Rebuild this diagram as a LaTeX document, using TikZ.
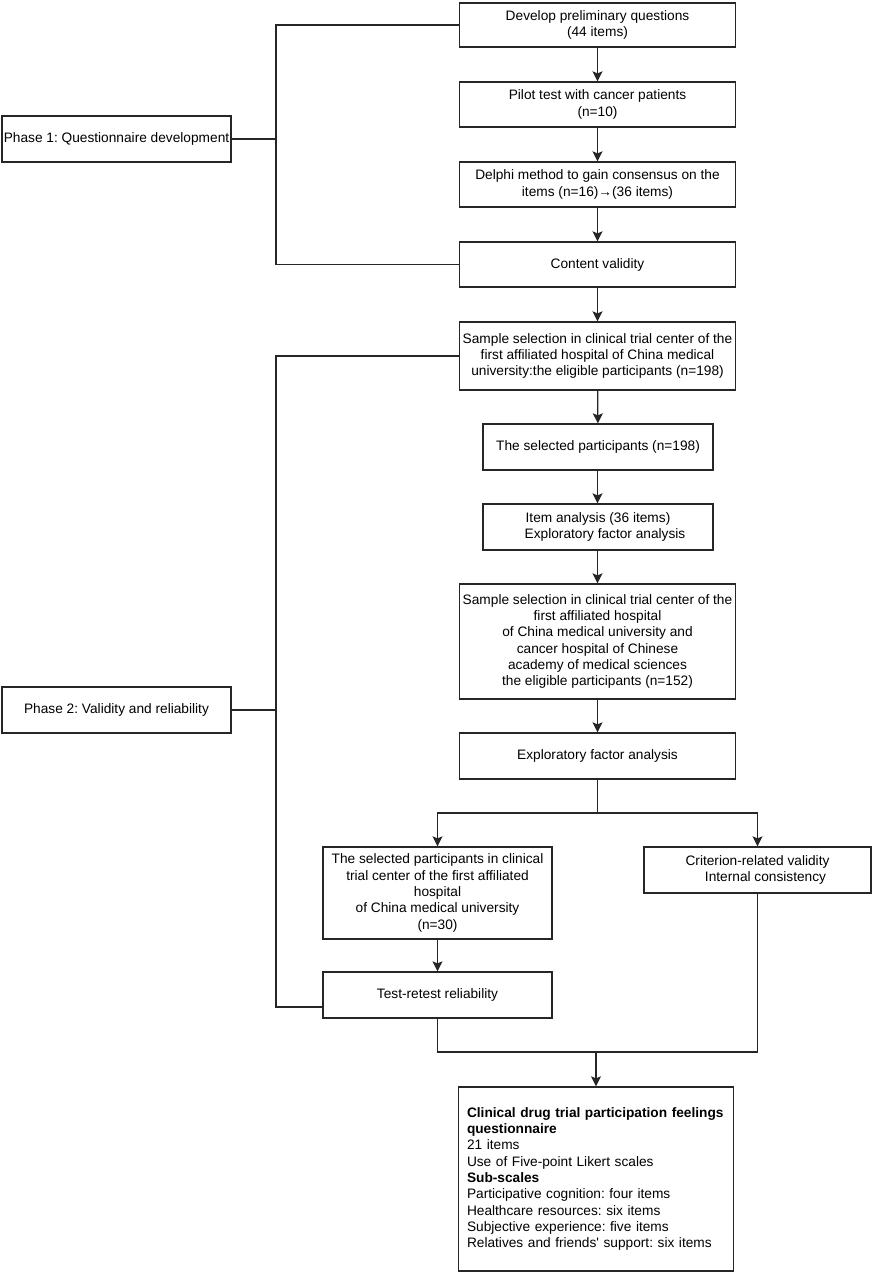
\documentclass[tikz,border=0pt]{standalone}
\usepackage{fontspec}
\setmainfont{Liberation Sans}
\usetikzlibrary{arrows.meta,calc}
\begin{document}
\frenchspacing
\begin{tikzpicture}[x=1pt,y=-1pt,
  every node/.style={inner sep=0pt},
  box/.style={draw=black!85,line width=1.3pt,align=center,
    font=\fontsize{13.7}{16.3}\selectfont,minimum width=276pt},
  conn/.style={draw=black!85,line width=1.3pt},
  arr/.style={conn,-{Stealth[length=10pt,width=10pt,inset=2pt]}}]
\useasboundingbox (0,0) rectangle (872,1273);
% main column
\node[box,minimum height=44pt] (b1) at (597.5,25) {Develop preliminary questions\\(44 items)};
\node[box,minimum height=45pt] (b2) at (597.5,104.5) {Pilot test with cancer patients\\(n=10)};
\node[box,minimum height=45pt] (b3) at (597.5,184.5) {Delphi method to gain consensus on the\\items (n=16)→(36 items)};
\node[box,minimum height=45pt] (b4) at (597.5,264.5) {Content validity};
\node[box,minimum height=68pt] (s1) at (597.5,356) {Sample selection in clinical trial center of the\\first affiliated hospital of China medical\\university:the eligible participants (n=198)};
\node[box,minimum width=230pt,minimum height=46pt] (sel) at (598,447) {The selected participants (n=198)};
\node[box,minimum width=230pt,minimum height=46pt] (item) at (598,527) {Item analysis (36 items)\\\hspace*{14pt}Exploratory factor analysis};
\node[box,minimum height=115pt] (s2) at (597.5,641.5) {Sample selection in clinical trial center of the\\first affiliated hospital\\of China medical university and\\cancer hospital of Chinese\\academy of medical sciences\\the eligible participants (n=152)};
\node[box,minimum height=46pt] (efa) at (597.5,756) {Exploratory factor analysis};
\node[box,minimum width=229pt,minimum height=92pt] (lb) at (437.5,893) {The selected participants in clinical\\trial center of the first affiliated\\hospital\\of China medical university\\(n=30)};
\node[box,minimum width=227pt,minimum height=46pt] (rb) at (757.5,870) {Criterion-related validity\\\hspace*{16pt}Internal consistency};
\node[box,minimum width=229pt,minimum height=46pt] (tr) at (437.5,995) {Test-retest reliability};
\node[box,minimum width=275pt,minimum height=184pt,text width=258pt,align=left] (fin) at (596,1179) {\textbf{Clinical drug trial participation feelings}\\\textbf{questionnaire}\\21 items\\Use of Five-point Likert scales\\\textbf{Sub-scales}\\Participative cognition: four items\\Healthcare resources: six items\\Subjective experience: five items\\Relatives and friends\textquotesingle{} support: six items};
% phase boxes
\node[box,minimum width=229pt,minimum height=46pt] (p1) at (116.5,139) {Phase 1: Questionnaire development};
\node[box,minimum width=229pt,minimum height=46pt] (p2) at (116.5,710) {Phase 2: Validity and reliability};
% arrows main column
\draw[arr] (b1) -- (b2);
\draw[arr] (b2) -- (b3);
\draw[arr] (b3) -- (b4);
\draw[arr] (b4) -- (s1);
\draw[arr] (s1) -- (sel);
\draw[arr] (sel.south -| s1.south) -- (item.north -| s1.south);
\draw[arr] (item.south -| s1.south) -- (s2.north);
\draw[arr] (s2) -- (efa);
% branch
\coordinate (br) at (597.5,813);
\draw[conn] (efa.south) -- (br);
\draw[arr] (br) -| (lb.north);
\draw[arr] (br) -| (rb.north);
\draw[arr] (lb) -- (tr);
% merge
\coordinate (mg) at (596,1052);
\draw[conn] (tr.south) |- (mg);
\draw[conn] (rb.south) |- (mg);
\draw[arr] (mg) -- (fin.north);
% brackets
\coordinate (v1) at (276,139);
\draw[conn] (b1.west) -| (v1) |- (b4.west);
\draw[conn] (p1.east) -- (v1);
\coordinate (v2) at (276,710);
\draw[conn] (s1.west) -| (v2) |- ([yshift=-12pt]tr.west);
\draw[conn] (p2.east) -- (v2);
\end{tikzpicture}
\end{document}
